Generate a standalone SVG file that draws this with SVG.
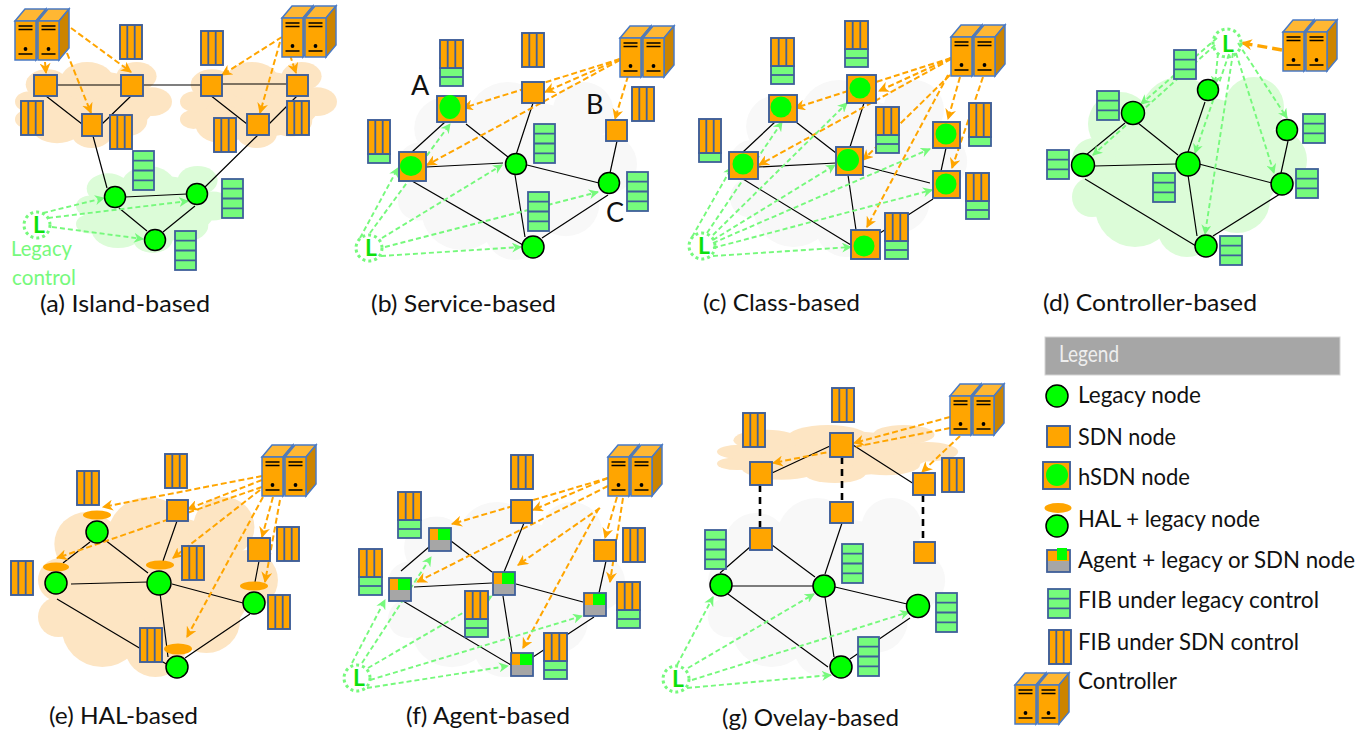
<svg xmlns="http://www.w3.org/2000/svg" width="1371" height="736" viewBox="0 0 1371 736">
<style>
text{font-family:Lato,"Liberation Sans",sans-serif;fill:#111}
.cap{font-size:24px}
.lg{font-size:23px}
.big{font-size:27px}
.lc{font-size:22px;fill:#76f97c}
.e{stroke:#000;stroke-width:1.2;fill:none}
.d{stroke:#000;stroke-width:2.6;stroke-dasharray:7 5;fill:none}
.o{stroke:#ffa500;stroke-width:2;stroke-dasharray:6 3;fill:none;marker-end:url(#ao)}
.ot{stroke:#ffa500;stroke-width:3.4;stroke-dasharray:10 5;fill:none;marker-end:url(#ao)}
.g{stroke:#76f97c;stroke-width:1.9;stroke-dasharray:5 3;fill:none;marker-end:url(#ag)}
.sq{fill:#ffa500;stroke:#3f5f99;stroke-width:1.9}
.leg{fill:#0f0;stroke:#000;stroke-width:1.5}
.in{fill:#0f0}
.hal{fill:#ffa500}
.bl{fill:none;stroke:#3f5f99;stroke-width:1.8}
.gr{fill:#76fb7c;stroke:#3f5f99;stroke-width:1.8}
.cg{fill:#f8f8f8}
.cl{fill:#dcfcd8}
.co{fill:#fde5c3}
.lr{fill:none;stroke:#76f97c;stroke-width:3;stroke-dasharray:3 3}
.lt{font-size:23px;font-weight:700;fill:#0de00d}
.cs{stroke:#4a7ac4;stroke-width:1.5}
</style>
<defs>
<marker id="ao" viewBox="0 0 10 10" refX="9" refY="5" markerWidth="11" markerHeight="11" markerUnits="userSpaceOnUse" orient="auto"><path d="M0 0L10 5L0 10L3 5z" fill="#ffa500"/></marker>
<marker id="ag" viewBox="0 0 10 10" refX="9" refY="5" markerWidth="10" markerHeight="10" markerUnits="userSpaceOnUse" orient="auto"><path d="M0 0L10 5L0 10L3 5z" fill="#76f97c"/></marker>
<g id="cloud">
<ellipse cx="115" cy="88" rx="94" ry="70"/><circle cx="20" cy="120" r="20"/><circle cx="63" cy="130" r="40"/><circle cx="115" cy="150" r="30"/><circle cx="165" cy="123" r="33"/><circle cx="205" cy="83" r="30"/><circle cx="182" cy="30" r="30"/><circle cx="108" cy="40" r="40"/><circle cx="48" cy="47" r="32"/><circle cx="22" cy="83" r="22"/>
</g>
<g id="box">
<path class="cs" fill="#ffb733" d="M0 0L10 -12H31L21 0z"/><path class="cs" fill="#cc8400" d="M21 0L31 -12V27L21 39z"/><rect class="cs" width="21" height="39" fill="#ffa500"/>
<path stroke="#000" stroke-width="1.7" d="M3.500 5H17.500M3.500 8.500H17.500M3.500 33H17.500"/><circle cx="10.500" cy="28" r="1.900"/>
</g>
<g id="ctrl"><use href="#box"/><use href="#box" x="23"/></g>
<g id="fs"><rect class="sq" width="22" height="34"/><path class="bl" d="M7.300 0V34M14.700 0V34"/></g>
<g id="fl4"><rect class="gr" width="21" height="39"/><path class="bl" d="M0 9.700H21M0 19.500H21M0 29.300H21"/></g>
<g id="fl3"><rect class="gr" width="22" height="29"/><path class="bl" d="M0 9.700H22M0 19.300H22"/></g>
<g id="m2"><rect class="gr" y="28" width="23" height="18"/><path class="bl" d="M0 37H23"/><rect class="sq" width="23" height="28"/><path class="bl" d="M7.700 0V28M15.300 0V28"/></g>
<g id="m1"><rect class="gr" y="34" width="22" height="9"/><rect class="sq" width="22" height="34"/><path class="bl" d="M7.300 0V34M14.700 0V34"/></g>
<g id="ag1"><rect width="22" height="12" fill="#ffa500"/><rect y="12" width="22" height="11" fill="#a6a6a6"/><rect x="9" y="0" width="13" height="12" fill="#0f0"/><rect class="bl" width="22" height="23"/></g>
</defs>

<g id="clouds">
<use href="#cloud" class="co" transform="translate(15 62) scale(.668 .478)"/>
<use href="#cloud" class="co" transform="translate(180 62) scale(.668 .478)"/>
<use href="#cloud" class="cl" transform="translate(76 166) scale(.668 .483)"/>
<use href="#cloud" class="cg" transform="translate(398 82) scale(1.017 .989)"/>
<use href="#cloud" class="cg" transform="translate(730 80) scale(1.009 .983)"/>
<use href="#cloud" class="cl" transform="translate(1072 77)"/>
<use href="#cloud" class="co" transform="translate(38 497) scale(1.021 1)"/>
<use href="#cloud" class="cg" transform="translate(388 502) scale(1.009 .972)"/>
<use href="#cloud" class="cg" transform="translate(708 498) scale(1.009 .994)"/>
<use href="#cloud" class="co" transform="translate(717 425) scale(1.026 .322)"/>
</g>

<g id="connectors">
<!-- a -->
<path class="e" d="M57 85H201M222 84H287M46 96L82 124M131 96L102 124M210 95L247 124M297 96L269 124M93 136L107 188M258 135L205 187M125 197L187 194M119 208L147 231M195 206L163 232"/>
<path class="o" d="M45 62L46 73"/><path class="o" d="M71 28L131 72"/><path class="o" d="M67 53L91 113"/><path class="o" d="M282 37L222 75"/><path class="o" d="M280 42L260 113"/><path class="o" d="M290 55L296 73"/>
<path class="g" d="M43 213L104 198"/><path class="g" d="M48 218L188 201"/><path class="g" d="M52 227L143 239"/>
<!-- b -->
<path class="e" d="M412 152L445 122M466 124L508 157M533 103L516 155M426 167L503 163M412 181L523 245M515 175L525 237M527 165L599 183M617 141L610 173M542 238L608 195"/>
<path class="o" d="M620 59L545 92"/><path class="o" d="M620 59L463 108"/><path class="o" d="M620 60L427 165"/><path class="o" d="M628 76L615 119"/>
<path class="g" d="M360 238L398 168"/><path class="g" d="M370 233L450 124"/><path class="g" d="M382 238L502 165"/><path class="g" d="M385 247L598 192"/><path class="g" d="M381 256L521 247"/>
<!-- c -->
<path class="e" d="M743 152L775 122M796 122L836 153M864 103L850 147M758 167L836 163M743 179L851 245M848 175L856 230M863 166L930 183M946 148L941 171M880 233L933 199"/>
<path class="o" d="M951 58L879 91"/><path class="o" d="M951 58L795 108"/><path class="o" d="M951 59L759 165"/><path class="o" d="M960 77L948 119"/><path class="o" d="M983 77L952 168"/><path class="o" d="M950 75L863 160"/><path class="o" d="M948 75L867 227"/>
<path class="g" d="M692 237L732 167"/><path class="g" d="M707 233L782 122"/><path class="g" d="M713 235L847 103"/><path class="g" d="M713 240L835 165"/><path class="g" d="M713 243L930 149"/><path class="g" d="M713 248L932 190"/><path class="g" d="M713 256L851 247"/>
<!-- d -->
<path class="e" d="M1086 155L1125 123M1138 123L1178 155M1205 102L1188 152M1094 166L1176 164M1085 179L1196 246M1188 175L1197 236M1199 164L1272 183M1288 141L1281 173M1213 236L1280 194"/>
<path class="ot" d="M1282 50L1242 43"/>
<path class="g" d="M1217 38L1141 104"/><path class="g" d="M1215 45L1093 155"/><path class="g" d="M1218 53L1215 85"/><path class="g" d="M1229 54L1195 153"/><path class="g" d="M1233 53L1205 234"/><path class="g" d="M1236 53L1274 173"/><path class="g" d="M1238 43L1287 118"/>
<!-- e -->
<path class="e" d="M90 542L63 563M105 540L148 573M177 521L163 561M71 584L148 582M57 599L168 665M160 593L168 657M172 584L243 603M259 561L255 582M185 658L250 614"/>
<path class="o" d="M262 476L103 507"/><path class="o" d="M262 480L188 509"/><path class="o" d="M262 487L57 558"/><path class="o" d="M260 490L173 558"/><path class="o" d="M263 497L187 637"/><path class="o" d="M273 497L262 537"/><path class="o" d="M280 500L265 582"/>
<!-- f -->
<path class="e" d="M401 571L429 547M451 541L492 572M524 523L504 572M414 587L492 583M403 601L511 665M503 596L512 653M516 584L583 602M606 561L599 593M533 657L594 617"/>
<path class="o" d="M608 478L533 510"/><path class="o" d="M608 478L452 524"/><path class="o" d="M608 486L417 582"/><path class="o" d="M600 508L518 565"/><path class="o" d="M599 508L523 648"/><path class="o" d="M617 497L605 538"/><path class="o" d="M623 498L610 582"/>
<path class="g" d="M352 663L385 600"/><path class="g" d="M362 663L431 557"/><path class="g" d="M368 668L492 596"/><path class="g" d="M370 680L582 616"/><path class="g" d="M367 688L508 666"/>
<!-- g -->
<path class="e" d="M772 473L830 446M853 445L914 484M720 573L750 547M772 545L815 577M842 523L825 574M732 586H813M728 594L828 667M825 597L834 657M835 587L907 604M850 659L910 618"/>
<path class="d" d="M760 485V528M842 457V502M923 495V542"/>
<path class="o" d="M950 417L854 443"/><path class="o" d="M950 428L773 463"/><path class="o" d="M960 436L922 472"/>
<path class="g" d="M677 665L713 597"/><path class="g" d="M688 668L814 594"/><path class="g" d="M692 680L909 612"/><path class="g" d="M687 688L831 675"/>
</g>

<g id="a-c1"><use href="#ctrl" x="15" y="21"/></g>
<g id="a-c2"><use href="#ctrl" x="282" y="18"/></g>
<g id="a-s1"><rect class="sq" x="34" y="75" width="23" height="21"/></g>
<g id="a-s2"><rect class="sq" x="121" y="75" width="22" height="21"/></g>
<g id="a-s3"><rect class="sq" x="201" y="75" width="21" height="21"/></g>
<g id="a-s4"><rect class="sq" x="287" y="75" width="21" height="21"/></g>
<g id="a-s5"><rect class="sq" x="82" y="114" width="20" height="22"/></g>
<g id="a-s6"><rect class="sq" x="247" y="114" width="22" height="21"/></g>
<g id="a-n1"><circle class="leg" cx="115" cy="197" r="10.500"/></g>
<g id="a-n2"><circle class="leg" cx="197" cy="194" r="10.500"/></g>
<g id="a-n3"><circle class="leg" cx="155" cy="240" r="10.500"/></g>
<g id="a-f"><use href="#fs" x="120" y="25"/><use href="#fs" x="201" y="31"/><use href="#fs" x="21" y="101"/><use href="#fs" x="110" y="115"/><use href="#fs" x="214" y="118"/><use href="#fs" x="287" y="101"/><use href="#fl4" x="133" y="151"/><use href="#fl4" x="222" y="179"/><use href="#fl4" x="175" y="231"/></g>
<g id="a-l"><circle class="lr" cx="37" cy="225" r="13"/><text class="lt" x="33" y="233">L</text></g>
<text class="lc" x="11" y="256" textLength="61" lengthAdjust="spacingAndGlyphs">Legacy</text>
<text class="lc" x="12" y="285" textLength="64" lengthAdjust="spacingAndGlyphs">control</text>
<text class="cap" x="40" y="312" textLength="170" lengthAdjust="spacingAndGlyphs">(a) Island-based</text>

<g id="b-c"><use href="#ctrl" x="620" y="38"/></g>
<g id="b-h1"><rect class="sq" x="437" y="96" width="29" height="26"/><ellipse class="in" cx="450" cy="107" rx="10.500" ry="12"/></g>
<g id="b-h2"><rect class="sq" x="399" y="152" width="27" height="29"/><ellipse class="in" cx="411" cy="166" rx="11" ry="10"/></g>
<g id="b-s1"><rect class="sq" x="522" y="82" width="22" height="21"/></g>
<g id="b-s2"><rect class="sq" x="606" y="120" width="21" height="21"/></g>
<g id="b-n1"><circle class="leg" cx="516" cy="164" r="10.500"/></g>
<g id="b-n2"><circle class="leg" cx="609" cy="183" r="10.500"/></g>
<g id="b-n3"><circle class="leg" cx="533" cy="247" r="11"/></g>
<g id="b-f"><use href="#m2" x="440" y="40"/><use href="#m1" x="368" y="120"/><use href="#fs" x="522" y="33"/><use href="#fs" x="632" y="87"/><use href="#fl4" x="534" y="124"/><use href="#fl4" x="528" y="192"/><use href="#fl4" x="627" y="172"/></g>
<g id="b-l"><circle class="lr" cx="369" cy="248" r="13"/><text class="lt" x="365" y="256">L</text></g>
<text class="big" x="411" y="95">A</text><text class="big" x="586" y="114">B</text><text class="big" x="606" y="222">C</text>
<text class="cap" x="371" y="312" textLength="185" lengthAdjust="spacingAndGlyphs">(b) Service-based</text>

<g id="c-c"><use href="#ctrl" x="951" y="37"/></g>
<g id="c-h1"><rect class="sq" x="847" y="75" width="29" height="28"/><circle class="in" cx="860" cy="88" r="10.500"/></g>
<g id="c-h2"><rect class="sq" x="769" y="95" width="28" height="27"/><circle class="in" cx="781" cy="107" r="10.500"/></g>
<g id="c-h3"><rect class="sq" x="729" y="152" width="29" height="27"/><circle class="in" cx="743" cy="164" r="10.500"/></g>
<g id="c-h4"><rect class="sq" x="836" y="147" width="27" height="28"/><circle class="in" cx="848" cy="160" r="11"/></g>
<g id="c-h5"><rect class="sq" x="933" y="122" width="27" height="26"/><circle class="in" cx="946" cy="134" r="10.500"/></g>
<g id="c-h6"><rect class="sq" x="933" y="171" width="27" height="27"/><circle class="in" cx="946" cy="184" r="10.500"/></g>
<g id="c-h7"><rect class="sq" x="851" y="230" width="29" height="29"/><circle class="in" cx="864" cy="246" r="10.500"/></g>
<g id="c-f"><use href="#m2" x="771" y="38"/><use href="#m2" x="845" y="21"/><use href="#m2" x="876" y="107"/><use href="#m2" x="966" y="173"/><use href="#m2" x="885" y="213"/><use href="#m1" x="699" y="119"/><use href="#m1" x="969" y="103"/></g>
<g id="c-l"><circle class="lr" cx="702" cy="246" r="13"/><text class="lt" x="698" y="254">L</text></g>
<text class="cap" x="703" y="311" textLength="157" lengthAdjust="spacingAndGlyphs">(c) Class-based</text>

<g id="d-c"><use href="#ctrl" x="1283" y="32"/></g>
<g id="d-n1"><circle class="leg" cx="1208" cy="90" r="10.500"/></g>
<g id="d-n2"><circle class="leg" cx="1133" cy="113" r="11.500"/></g>
<g id="d-n3"><circle class="leg" cx="1083" cy="165" r="11.500"/></g>
<g id="d-n4"><circle class="leg" cx="1188" cy="164" r="12"/></g>
<g id="d-n5"><circle class="leg" cx="1287" cy="130" r="10.500"/></g>
<g id="d-n6"><circle class="leg" cx="1282" cy="184" r="11"/></g>
<g id="d-n7"><circle class="leg" cx="1206" cy="246" r="11"/></g>
<g id="d-f"><use href="#fl3" x="1174" y="50"/><use href="#fl3" x="1097" y="91"/><use href="#fl3" x="1047" y="150"/><use href="#fl3" x="1153" y="173"/><use href="#fl3" x="1303" y="114"/><use href="#fl3" x="1296" y="169"/><use href="#fl3" x="1220" y="236"/></g>
<g id="d-l"><circle class="lr" cx="1227" cy="43" r="14"/><text class="lt" x="1222" y="52">L</text></g>
<text class="cap" x="1043" y="311" textLength="214" lengthAdjust="spacingAndGlyphs">(d) Controller-based</text>

<g id="e-c"><use href="#ctrl" x="262" y="457"/></g>
<g id="e-s1"><rect class="sq" x="167" y="500" width="21" height="21"/></g>
<g id="e-s2"><rect class="sq" x="248" y="538" width="22" height="23"/></g>
<g id="e-n1"><ellipse class="hal" cx="97" cy="515" rx="14" ry="4.500"/><circle class="leg" cx="97" cy="532" r="11"/></g>
<g id="e-n2"><ellipse class="hal" cx="56" cy="567" rx="13" ry="4.500"/><circle class="leg" cx="56" cy="583" r="11"/></g>
<g id="e-n3"><ellipse class="hal" cx="160" cy="565" rx="14" ry="4.500"/><circle class="leg" cx="159" cy="583" r="12"/></g>
<g id="e-n4"><ellipse class="hal" cx="254" cy="586" rx="14" ry="4.500"/><circle class="leg" cx="254" cy="603" r="11"/></g>
<g id="e-n5"><ellipse class="hal" cx="178" cy="649" rx="14" ry="5.500"/><circle class="leg" cx="177" cy="667" r="11"/></g>
<g id="e-f"><use href="#fs" x="77" y="471"/><use href="#fs" x="165" y="454"/><use href="#fs" x="11" y="561"/><use href="#fs" x="182" y="546"/><use href="#fs" x="277" y="527"/><use href="#fs" x="268" y="595"/><use href="#fs" x="140" y="628"/></g>
<text class="cap" x="49" y="724" textLength="149" lengthAdjust="spacingAndGlyphs">(e) HAL-based</text>

<g id="f-c"><use href="#ctrl" x="608" y="457"/></g>
<g id="f-a1"><use href="#ag1" x="429" y="528"/></g>
<g id="f-a2"><use href="#ag1" x="389" y="578"/></g>
<g id="f-a3"><use href="#ag1" x="493" y="572"/></g>
<g id="f-a4"><use href="#ag1" x="584" y="593"/></g>
<g id="f-a5"><use href="#ag1" x="511" y="653"/></g>
<g id="f-s1"><rect class="sq" x="511" y="500" width="21" height="23"/></g>
<g id="f-s2"><rect class="sq" x="594" y="540" width="22" height="21"/></g>
<g id="f-f"><use href="#fs" x="511" y="455"/><use href="#fs" x="623" y="528"/><use href="#m2" x="398" y="492"/><use href="#m2" x="359" y="549"/><use href="#m2" x="465" y="591"/><use href="#m2" x="617" y="582"/><use href="#m2" x="544" y="633"/></g>
<g id="f-l"><circle class="lr" cx="357" cy="678" r="13"/><text class="lt" x="353" y="686">L</text></g>
<text class="cap" x="406" y="724" textLength="164" lengthAdjust="spacingAndGlyphs">(f) Agent-based</text>

<g id="g-c"><use href="#ctrl" x="950" y="396"/></g>
<g id="g-s1"><rect class="sq" x="830" y="433" width="23" height="24"/></g>
<g id="g-s2"><rect class="sq" x="750" y="462" width="22" height="23"/></g>
<g id="g-s3"><rect class="sq" x="913" y="473" width="22" height="22"/></g>
<g id="g-s4"><rect class="sq" x="830" y="502" width="23" height="21"/></g>
<g id="g-s5"><rect class="sq" x="750" y="528" width="22" height="22"/></g>
<g id="g-s6"><rect class="sq" x="914" y="542" width="21" height="21"/></g>
<g id="g-n1"><circle class="leg" cx="721" cy="585" r="11"/></g>
<g id="g-n2"><circle class="leg" cx="824" cy="586" r="11"/></g>
<g id="g-n3"><circle class="leg" cx="918" cy="606" r="11.500"/></g>
<g id="g-n4"><circle class="leg" cx="841" cy="667" r="11"/></g>
<g id="g-f"><use href="#fs" x="743" y="413"/><use href="#fs" x="832" y="388"/><use href="#fs" x="942" y="458"/><use href="#fl4" x="705" y="530"/><use href="#fl4" x="842" y="544"/><use href="#fl4" x="936" y="593"/><use href="#fl4" x="858" y="637"/></g>
<g id="g-l"><circle class="lr" cx="676" cy="679" r="13"/><text class="lt" x="672" y="687">L</text></g>
<text class="cap" x="722" y="726" textLength="177" lengthAdjust="spacingAndGlyphs">(g) Ovelay-based</text>

<g id="legend">
<rect x="1045" y="337" width="295" height="38" fill="#a6a6a6" stroke="#d4d4d4"/>
<text class="lg" x="1059" y="362" textLength="60" lengthAdjust="spacingAndGlyphs" style="fill:#eee">Legend</text>
<circle class="leg" cx="1057" cy="396" r="11"/>
<text class="lg" x="1078" y="403" textLength="123" lengthAdjust="spacingAndGlyphs">Legacy node</text>
<rect class="sq" x="1047" y="426" width="23" height="21"/>
<text class="lg" x="1078" y="445" textLength="98" lengthAdjust="spacingAndGlyphs">SDN node</text>
<rect class="sq" x="1043" y="462" width="27" height="27"/><circle class="in" cx="1057" cy="475" r="11"/>
<text class="lg" x="1078" y="485" textLength="112" lengthAdjust="spacingAndGlyphs">hSDN node</text>
<ellipse class="hal" cx="1058" cy="508" rx="13.500" ry="5"/><circle class="leg" cx="1057" cy="526" r="11"/>
<text class="lg" x="1078" y="527" textLength="182" lengthAdjust="spacingAndGlyphs">HAL + legacy node</text>
<rect x="1047" y="550" width="23" height="12" fill="#ffa500"/><rect x="1047" y="561" width="23" height="11" fill="#a6a6a6"/><rect class="bl" x="1047" y="550" width="23" height="22"/><rect x="1057" y="548" width="10" height="12" fill="#0f0"/>
<text class="lg" x="1078" y="568" textLength="277" lengthAdjust="spacingAndGlyphs">Agent + legacy or SDN node</text>
<use href="#fl3" x="1048" y="589"/>
<text class="lg" x="1078" y="608" textLength="241" lengthAdjust="spacingAndGlyphs">FIB under legacy control</text>
<use href="#fs" x="1049" y="630"/>
<text class="lg" x="1078" y="650" textLength="221" lengthAdjust="spacingAndGlyphs">FIB under SDN control</text>
<use href="#ctrl" x="1015" y="685"/>
<text class="lg" x="1078" y="689" textLength="99" lengthAdjust="spacingAndGlyphs">Controller</text>
</g>
</svg>
